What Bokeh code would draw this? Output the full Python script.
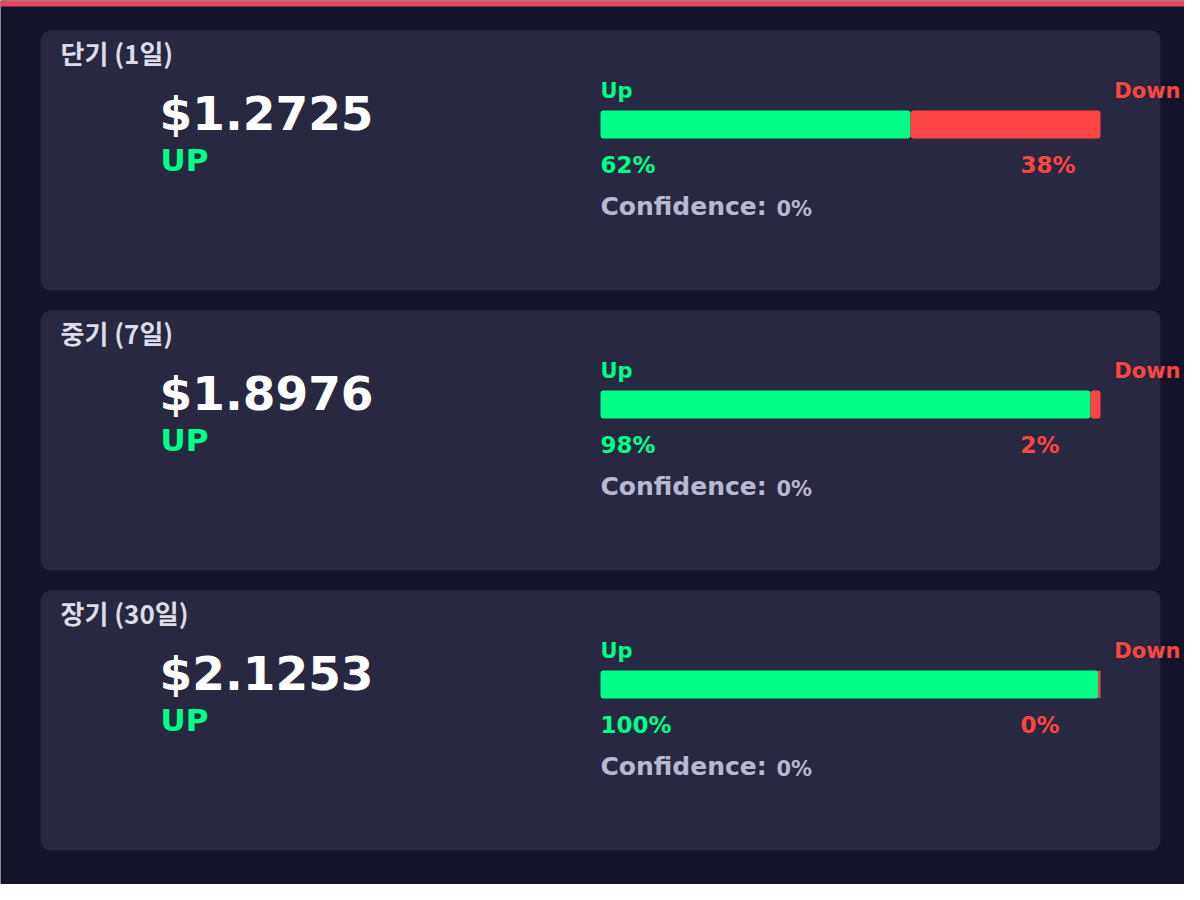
from bokeh.plotting import figure
from bokeh.models import Range1d
from bokeh.core.properties import value
from bokeh.embed import file_html
from bokeh.resources import INLINE

# ---- data ----
horizons = ["단기 (1일)", "중기 (7일)", "장기 (30일)"]
prices = [1.2725, 1.8976, 2.1253]
directions = ["UP", "UP", "UP"]
up_prob = [62.0, 98.0, 99.6]
confidence = [0, 0, 0]

BG = "#13132a"
PANEL = "#282840"
GREEN = "#00ff88"
RED = "#ff4444"
LIGHT = "#dcdce6"
MUTED = "#b8b8d0"
LATIN = "DejaVu Sans"
KR = "Noto Sans CJK KR"

W, H = 1184, 884
p = figure(width=W, height=H, output_backend="svg", toolbar_location=None,
           x_range=Range1d(0, W), y_range=Range1d(H, 0),
           min_border=0, background_fill_color=BG, border_fill_color=BG,
           outline_line_color=None)
p.axis.visible = False
p.grid.visible = False

# top accent bar
p.quad(left=[0], right=[W], top=[0], bottom=[6], fill_color="#e84560", line_color=None)

n = len(horizons)
tops = [30 + 280 * i for i in range(n)]
bottoms = [t + 260 for t in tops]

p.quad(left=[40] * n, right=[1160] * n, top=tops, bottom=bottoms,
       fill_color=PANEL, line_color=None, border_radius=10)

# bars
bx0, bw = 600, 500
up_right = [bx0 + bw * u / 100 for u in up_prob]
p.quad(left=[bx0] * n, right=up_right, top=[t + 80 for t in tops], bottom=[t + 108 for t in tops],
       fill_color=GREEN, line_color=None, border_radius=3)
p.quad(left=up_right, right=[bx0 + bw] * n, top=[t + 80 for t in tops], bottom=[t + 108 for t in tops],
       fill_color=RED, line_color=None, border_radius=3)

def txt(xs, ys, texts, color, size, font, align="left", style="bold"):
    p.text(x=xs, y=ys, text=texts, text_color=color, text_font=value(font),
           text_font_size=f"{size}px", text_font_style=style, text_align=align,
           text_baseline="middle")

txt([60] * n, [t + 22 for t in tops], horizons, LIGHT, 26, KR)
txt([159] * n, [t + 83 for t in tops], [f"${v:.4f}" for v in prices], "#ffffff", 47, LATIN)
txt([160] * n, [t + 129 for t in tops], directions, GREEN, 31, LATIN)
txt([600] * n, [t + 60 for t in tops], ["Up"] * n, GREEN, 21, LATIN)
txt([1180] * n, [t + 60 for t in tops], ["Down"] * n, RED, 21, LATIN, align="right")
txt([600] * n, [t + 134 for t in tops], [f"{round(u)}%" for u in up_prob], GREEN, 23, LATIN)
txt([1020] * n, [t + 134 for t in tops], [f"{round(100 - u)}%" for u in up_prob], RED, 23, LATIN)
txt([600] * n, [t + 176 for t in tops], ["Confidence:"] * n, MUTED, 25, LATIN)
txt([776] * n, [t + 178 for t in tops], [f"{c}%" for c in confidence], MUTED, 21, LATIN)

open("out.html", "w").write(file_html(p, INLINE))
